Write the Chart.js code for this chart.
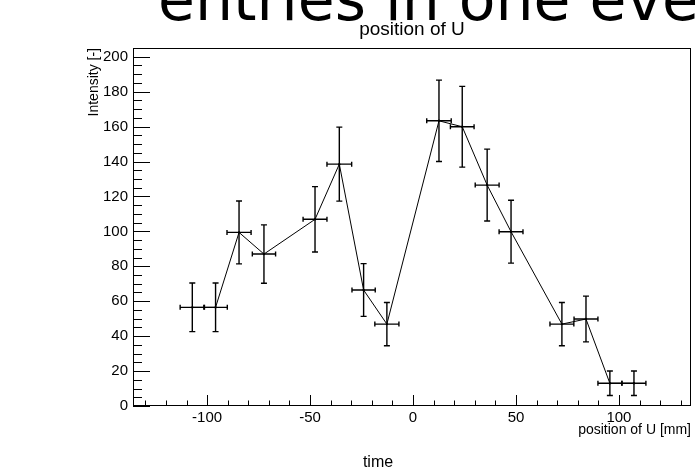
<!DOCTYPE html>
<html>
<head>
<meta charset="utf-8">
<script src="https://cdn.jsdelivr.net/npm/chart.js@4/dist/chart.umd.min.js"></script>
<style>
  html, body { margin: 0; padding: 0; background: #fff; }
  #plot { display: block; }
</style>
</head>
<body>
<canvas id="plot" width="695" height="470"></canvas>
<script>
// values
var xVals = [-107.2, -95.9, -84.5, -72.4, -47.6, -35.8, -24.0, -12.7, 12.6, 23.9, 36.0, 47.6, 72.3, 84.0, 95.6, 107.3];
var yVals = [56.5, 56.5, 99.4, 87.0, 106.9, 138.5, 66.4, 46.9, 163.3, 159.9, 126.5, 99.8, 46.9, 49.8, 13.0, 13.0];
var xErr = [5.9, 5.7, 5.85, 5.65, 5.8, 6.0, 5.65, 5.85, 5.95, 5.75, 5.8, 5.8, 5.8, 5.8, 5.8, 5.8];
var yErr = [13.9, 13.9, 18.0, 16.7, 18.7, 21.2, 15.1, 12.4, 23.3, 23.1, 20.6, 18.0, 12.4, 13.1, 7.0, 7.0];

var xRange = [-136, 135];
var yRange = [0, 205];
var xTickVals = [-100, -50, 0, 50, 100];
var yTickVals = [0, 20, 40, 60, 80, 100, 120, 140, 160, 180, 200];

var bigText = "entries in one event";
var plotTitle = "position of U";
var xTitle = "position of U [mm]";
var yTitle = "Intensity [-]";
var footText = "time";

var FONT = "'Liberation Sans', Arial, Helvetica, sans-serif";

// frame, inward ticks, error bars and the loose texts
var rootStyle = {
  id: 'rootStyle',
  afterDatasetsDraw: function(chart) {
    var ctx = chart.ctx;
    var a = chart.chartArea;
    var sx = chart.scales.x, sy = chart.scales.y;
    ctx.save();
    ctx.strokeStyle = '#000';

    // error bars
    ctx.lineWidth = 1.4;
    for (var i = 0; i < xVals.length; i++) {
      var px = sx.getPixelForValue(xVals[i]);
      var py = sy.getPixelForValue(yVals[i]);
      var x0 = sx.getPixelForValue(xVals[i] - xErr[i]);
      var x1 = sx.getPixelForValue(xVals[i] + xErr[i]);
      var y0 = sy.getPixelForValue(yVals[i] - yErr[i]);
      var y1 = sy.getPixelForValue(yVals[i] + yErr[i]);
      ctx.beginPath();
      ctx.moveTo(x0, py); ctx.lineTo(x1, py);
      ctx.moveTo(px, y0); ctx.lineTo(px, y1);
      ctx.moveTo(px - 3, y0); ctx.lineTo(px + 3, y0);
      ctx.moveTo(px - 3, y1); ctx.lineTo(px + 3, y1);
      ctx.moveTo(x0, py - 2.5); ctx.lineTo(x0, py + 2.5);
      ctx.moveTo(x1, py - 2.5); ctx.lineTo(x1, py + 2.5);
      ctx.stroke();
    }

    // ticks pointing into the frame
    ctx.lineWidth = 1;
    ctx.beginPath();
    for (var v = Math.ceil(sx.min / 10) * 10; v <= sx.max; v += 10) {
      var tx = Math.round(sx.getPixelForValue(v)) + 0.5;
      var len = (v % 50 === 0) ? 11 : 5.5;
      ctx.moveTo(tx, a.bottom); ctx.lineTo(tx, a.bottom - len);
    }
    for (var w = Math.ceil(sy.min / 5) * 5; w <= sy.max; w += 5) {
      var ty = Math.round(sy.getPixelForValue(w)) + 0.5;
      var ylen = (w % 20 === 0) ? 17 : 9;
      ctx.moveTo(a.left, ty); ctx.lineTo(a.left + ylen, ty);
    }
    ctx.stroke();

    // frame
    ctx.strokeRect(a.left + 0.5, a.top + 0.5, a.width - 1, a.height - 1);

    // texts
    ctx.fillStyle = '#000';
    ctx.textBaseline = 'alphabetic';
    ctx.textAlign = 'left';
    ctx.font = "60px 'DejaVu Sans', sans-serif";
    ctx.fillText(bigText, 158, 20);
    ctx.textAlign = 'center';
    ctx.font = '19px ' + FONT;
    ctx.fillText(plotTitle, (a.left + a.right) / 2, 35);
    ctx.font = '16px ' + FONT;
    ctx.fillText(footText, 378, 467);
    ctx.restore();
  }
};

var points = xVals.map(function(v, i) { return {x: v, y: yVals[i]}; });

new Chart(document.getElementById('plot'), {
  type: 'scatter',
  data: {
    datasets: [{
      data: points,
      showLine: true,
      borderColor: '#000',
      borderWidth: 1,
      pointRadius: 1.2,
      pointBackgroundColor: '#000',
      pointBorderWidth: 0,
      tension: 0
    }]
  },
  options: {
    responsive: false,
    animation: false,
    devicePixelRatio: 1,
    layout: { padding: { left: 80, top: 48, right: 2, bottom: 31 } },
    plugins: { legend: { display: false }, tooltip: { enabled: false }, title: { display: false } },
    scales: {
      x: {
        type: 'linear',
        position: 'bottom',
        min: xRange[0],
        max: xRange[1],
        afterBuildTicks: function(s) { s.ticks = xTickVals.map(function(v) { return {value: v}; }); },
        afterFit: function(s) { s.height = 33; },
        grid: { display: false, drawTicks: false },
        border: { display: false },
        ticks: { padding: 3, color: '#000', maxRotation: 0, autoSkip: false, font: { family: FONT, size: 15 } },
        title: { display: true, text: xTitle, align: 'end', color: '#000', padding: 0, font: { family: FONT, size: 14 } }
      },
      y: {
        type: 'linear',
        min: yRange[0],
        max: yRange[1],
        afterBuildTicks: function(s) { s.ticks = yTickVals.map(function(v) { return {value: v}; }); },
        afterFit: function(s) { s.width = 53; },
        grid: { display: false, drawTicks: false },
        border: { display: false },
        ticks: { padding: 5, color: '#000', autoSkip: false, font: { family: FONT, size: 15 } },
        title: { display: true, text: yTitle, align: 'end', color: '#000', padding: { top: 6, bottom: 0 }, font: { family: FONT, size: 14 } }
      }
    }
  },
  plugins: [rootStyle]
});
</script>
</body>
</html>
